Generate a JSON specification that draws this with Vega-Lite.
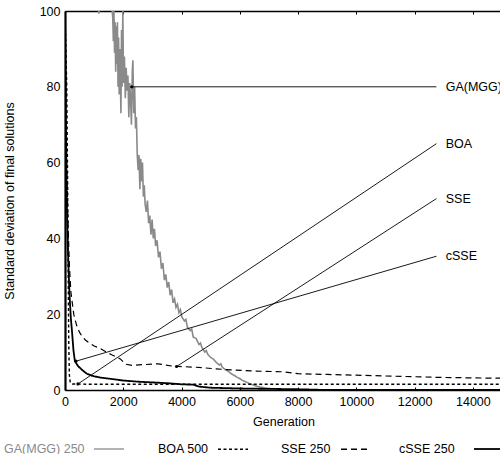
{
  "$schema": "https://vega.github.io/schema/vega-lite/v6.json",
  "autosize": "none",
  "width": 437,
  "height": 379,
  "padding": {"left": 65, "top": 11, "right": 0, "bottom": 64},
  "background": "white",
  "config": {
    "view": {"stroke": null},
    "font": "Liberation Sans",
    "axis": {"labelFont": "Liberation Sans", "titleFont": "Liberation Sans", "labelFontSize": 12.5, "titleFontSize": 12.5, "titleFontWeight": "normal", "labelColor": "black", "titleColor": "black", "domainColor": "black", "tickColor": "black", "grid": false},
    "legend": {"labelFont": "Liberation Sans", "labelFontSize": 12.5, "labelColor": "black", "padding": 0}
  },
  "datasets": {
    "curves": [
      {"series": "GA(MGG) 250", "gen": 0, "sd": 140},
      {"series": "GA(MGG) 250", "gen": 1100, "sd": 106},
      {"series": "GA(MGG) 250", "gen": 1160, "sd": 99.3},
      {"series": "GA(MGG) 250", "gen": 1200, "sd": 106},
      {"series": "GA(MGG) 250", "gen": 1500, "sd": 108},
      {"series": "GA(MGG) 250", "gen": 1610, "sd": 101},
      {"series": "GA(MGG) 250", "gen": 1640, "sd": 98},
      {"series": "GA(MGG) 250", "gen": 1660, "sd": 92},
      {"series": "GA(MGG) 250", "gen": 1680, "sd": 100},
      {"series": "GA(MGG) 250", "gen": 1700, "sd": 89},
      {"series": "GA(MGG) 250", "gen": 1720, "sd": 97},
      {"series": "GA(MGG) 250", "gen": 1740, "sd": 84},
      {"series": "GA(MGG) 250", "gen": 1760, "sd": 96},
      {"series": "GA(MGG) 250", "gen": 1780, "sd": 86},
      {"series": "GA(MGG) 250", "gen": 1800, "sd": 97},
      {"series": "GA(MGG) 250", "gen": 1820, "sd": 80},
      {"series": "GA(MGG) 250", "gen": 1840, "sd": 93},
      {"series": "GA(MGG) 250", "gen": 1860, "sd": 78},
      {"series": "GA(MGG) 250", "gen": 1880, "sd": 90},
      {"series": "GA(MGG) 250", "gen": 1900, "sd": 82},
      {"series": "GA(MGG) 250", "gen": 1920, "sd": 73},
      {"series": "GA(MGG) 250", "gen": 1940, "sd": 95},
      {"series": "GA(MGG) 250", "gen": 1960, "sd": 80},
      {"series": "GA(MGG) 250", "gen": 1985, "sd": 100},
      {"series": "GA(MGG) 250", "gen": 2010, "sd": 81},
      {"series": "GA(MGG) 250", "gen": 2040, "sd": 88},
      {"series": "GA(MGG) 250", "gen": 2070, "sd": 77},
      {"series": "GA(MGG) 250", "gen": 2100, "sd": 85},
      {"series": "GA(MGG) 250", "gen": 2130, "sd": 79},
      {"series": "GA(MGG) 250", "gen": 2160, "sd": 83},
      {"series": "GA(MGG) 250", "gen": 2190, "sd": 72},
      {"series": "GA(MGG) 250", "gen": 2220, "sd": 81},
      {"series": "GA(MGG) 250", "gen": 2250, "sd": 77},
      {"series": "GA(MGG) 250", "gen": 2280, "sd": 70},
      {"series": "GA(MGG) 250", "gen": 2310, "sd": 84},
      {"series": "GA(MGG) 250", "gen": 2330, "sd": 87},
      {"series": "GA(MGG) 250", "gen": 2360, "sd": 73},
      {"series": "GA(MGG) 250", "gen": 2390, "sd": 80},
      {"series": "GA(MGG) 250", "gen": 2420, "sd": 69},
      {"series": "GA(MGG) 250", "gen": 2450, "sd": 72},
      {"series": "GA(MGG) 250", "gen": 2480, "sd": 62},
      {"series": "GA(MGG) 250", "gen": 2510, "sd": 58},
      {"series": "GA(MGG) 250", "gen": 2540, "sd": 62},
      {"series": "GA(MGG) 250", "gen": 2570, "sd": 53},
      {"series": "GA(MGG) 250", "gen": 2600, "sd": 61},
      {"series": "GA(MGG) 250", "gen": 2630, "sd": 55},
      {"series": "GA(MGG) 250", "gen": 2660, "sd": 60},
      {"series": "GA(MGG) 250", "gen": 2690, "sd": 51},
      {"series": "GA(MGG) 250", "gen": 2720, "sd": 54},
      {"series": "GA(MGG) 250", "gen": 2750, "sd": 49},
      {"series": "GA(MGG) 250", "gen": 2790, "sd": 47},
      {"series": "GA(MGG) 250", "gen": 2830, "sd": 50},
      {"series": "GA(MGG) 250", "gen": 2870, "sd": 44},
      {"series": "GA(MGG) 250", "gen": 2910, "sd": 46},
      {"series": "GA(MGG) 250", "gen": 2950, "sd": 41},
      {"series": "GA(MGG) 250", "gen": 2990, "sd": 45},
      {"series": "GA(MGG) 250", "gen": 3030, "sd": 40},
      {"series": "GA(MGG) 250", "gen": 3070, "sd": 42.5},
      {"series": "GA(MGG) 250", "gen": 3110, "sd": 38},
      {"series": "GA(MGG) 250", "gen": 3160, "sd": 39.5},
      {"series": "GA(MGG) 250", "gen": 3210, "sd": 35},
      {"series": "GA(MGG) 250", "gen": 3260, "sd": 36.5},
      {"series": "GA(MGG) 250", "gen": 3310, "sd": 32},
      {"series": "GA(MGG) 250", "gen": 3360, "sd": 33.5},
      {"series": "GA(MGG) 250", "gen": 3410, "sd": 29},
      {"series": "GA(MGG) 250", "gen": 3460, "sd": 30.5},
      {"series": "GA(MGG) 250", "gen": 3510, "sd": 27},
      {"series": "GA(MGG) 250", "gen": 3560, "sd": 28.5},
      {"series": "GA(MGG) 250", "gen": 3610, "sd": 25},
      {"series": "GA(MGG) 250", "gen": 3660, "sd": 26.5},
      {"series": "GA(MGG) 250", "gen": 3710, "sd": 23},
      {"series": "GA(MGG) 250", "gen": 3760, "sd": 24},
      {"series": "GA(MGG) 250", "gen": 3810, "sd": 21.8},
      {"series": "GA(MGG) 250", "gen": 3860, "sd": 22.6},
      {"series": "GA(MGG) 250", "gen": 3910, "sd": 20.4},
      {"series": "GA(MGG) 250", "gen": 3960, "sd": 21.2},
      {"series": "GA(MGG) 250", "gen": 4010, "sd": 19.3},
      {"series": "GA(MGG) 250", "gen": 4100, "sd": 18.2},
      {"series": "GA(MGG) 250", "gen": 4150, "sd": 18.6},
      {"series": "GA(MGG) 250", "gen": 4200, "sd": 16.6},
      {"series": "GA(MGG) 250", "gen": 4300, "sd": 15.7},
      {"series": "GA(MGG) 250", "gen": 4350, "sd": 16.1},
      {"series": "GA(MGG) 250", "gen": 4400, "sd": 14},
      {"series": "GA(MGG) 250", "gen": 4500, "sd": 13.6},
      {"series": "GA(MGG) 250", "gen": 4600, "sd": 12},
      {"series": "GA(MGG) 250", "gen": 4650, "sd": 12.4},
      {"series": "GA(MGG) 250", "gen": 4700, "sd": 11.2},
      {"series": "GA(MGG) 250", "gen": 4800, "sd": 10},
      {"series": "GA(MGG) 250", "gen": 4850, "sd": 10.4},
      {"series": "GA(MGG) 250", "gen": 4900, "sd": 9.4},
      {"series": "GA(MGG) 250", "gen": 5000, "sd": 8.6},
      {"series": "GA(MGG) 250", "gen": 5100, "sd": 8.1},
      {"series": "GA(MGG) 250", "gen": 5200, "sd": 7.2},
      {"series": "GA(MGG) 250", "gen": 5300, "sd": 6.6},
      {"series": "GA(MGG) 250", "gen": 5350, "sd": 6.9},
      {"series": "GA(MGG) 250", "gen": 5400, "sd": 6},
      {"series": "GA(MGG) 250", "gen": 5500, "sd": 5.4},
      {"series": "GA(MGG) 250", "gen": 5600, "sd": 5},
      {"series": "GA(MGG) 250", "gen": 5700, "sd": 4.3},
      {"series": "GA(MGG) 250", "gen": 5800, "sd": 3.9},
      {"series": "GA(MGG) 250", "gen": 5900, "sd": 3.4},
      {"series": "GA(MGG) 250", "gen": 6000, "sd": 3},
      {"series": "GA(MGG) 250", "gen": 6100, "sd": 2.5},
      {"series": "GA(MGG) 250", "gen": 6200, "sd": 2.2},
      {"series": "GA(MGG) 250", "gen": 6300, "sd": 1.8},
      {"series": "GA(MGG) 250", "gen": 6400, "sd": 1.5},
      {"series": "GA(MGG) 250", "gen": 6500, "sd": 1.2},
      {"series": "GA(MGG) 250", "gen": 6700, "sd": 0.8},
      {"series": "GA(MGG) 250", "gen": 6900, "sd": 0.5},
      {"series": "GA(MGG) 250", "gen": 7100, "sd": 0.3},
      {"series": "GA(MGG) 250", "gen": 7300, "sd": 0.15},
      {"series": "GA(MGG) 250", "gen": 7500, "sd": 0.05},
      {"series": "GA(MGG) 250", "gen": 8000, "sd": 0},
      {"series": "GA(MGG) 250", "gen": 15000, "sd": 0},
      {"series": "BOA 500", "gen": 0, "sd": 100},
      {"series": "BOA 500", "gen": 60, "sd": 80},
      {"series": "BOA 500", "gen": 90, "sd": 55},
      {"series": "BOA 500", "gen": 110, "sd": 30},
      {"series": "BOA 500", "gen": 130, "sd": 12},
      {"series": "BOA 500", "gen": 150, "sd": 4},
      {"series": "BOA 500", "gen": 180, "sd": 2},
      {"series": "BOA 500", "gen": 250, "sd": 1.6},
      {"series": "BOA 500", "gen": 1000, "sd": 1.5},
      {"series": "BOA 500", "gen": 15000, "sd": 1.5},
      {"series": "SSE 250", "gen": 0, "sd": 100},
      {"series": "SSE 250", "gen": 30, "sd": 80},
      {"series": "SSE 250", "gen": 60, "sd": 60},
      {"series": "SSE 250", "gen": 100, "sd": 45},
      {"series": "SSE 250", "gen": 150, "sd": 33},
      {"series": "SSE 250", "gen": 200, "sd": 26},
      {"series": "SSE 250", "gen": 300, "sd": 20},
      {"series": "SSE 250", "gen": 400, "sd": 17},
      {"series": "SSE 250", "gen": 500, "sd": 15.2},
      {"series": "SSE 250", "gen": 600, "sd": 14},
      {"series": "SSE 250", "gen": 700, "sd": 13.2},
      {"series": "SSE 250", "gen": 800, "sd": 12.6},
      {"series": "SSE 250", "gen": 1000, "sd": 11.6},
      {"series": "SSE 250", "gen": 1200, "sd": 11},
      {"series": "SSE 250", "gen": 1400, "sd": 10.1},
      {"series": "SSE 250", "gen": 1600, "sd": 9.3},
      {"series": "SSE 250", "gen": 1800, "sd": 8.6},
      {"series": "SSE 250", "gen": 1900, "sd": 8.2},
      {"series": "SSE 250", "gen": 2000, "sd": 7.4},
      {"series": "SSE 250", "gen": 2100, "sd": 6.8},
      {"series": "SSE 250", "gen": 2300, "sd": 6.5},
      {"series": "SSE 250", "gen": 2700, "sd": 6.7},
      {"series": "SSE 250", "gen": 3200, "sd": 6.9},
      {"series": "SSE 250", "gen": 3700, "sd": 6.3},
      {"series": "SSE 250", "gen": 4500, "sd": 6},
      {"series": "SSE 250", "gen": 5500, "sd": 5.4},
      {"series": "SSE 250", "gen": 6500, "sd": 5},
      {"series": "SSE 250", "gen": 7500, "sd": 4.8},
      {"series": "SSE 250", "gen": 8000, "sd": 4.3},
      {"series": "SSE 250", "gen": 9000, "sd": 4.1},
      {"series": "SSE 250", "gen": 10000, "sd": 3.9},
      {"series": "SSE 250", "gen": 11000, "sd": 3.7},
      {"series": "SSE 250", "gen": 12000, "sd": 3.5},
      {"series": "SSE 250", "gen": 13000, "sd": 3.3},
      {"series": "SSE 250", "gen": 14000, "sd": 3.2},
      {"series": "SSE 250", "gen": 15000, "sd": 3.1},
      {"series": "cSSE 250", "gen": 0, "sd": 100},
      {"series": "cSSE 250", "gen": 30, "sd": 70},
      {"series": "cSSE 250", "gen": 60, "sd": 50},
      {"series": "cSSE 250", "gen": 100, "sd": 37},
      {"series": "cSSE 250", "gen": 150, "sd": 26},
      {"series": "cSSE 250", "gen": 200, "sd": 19},
      {"series": "cSSE 250", "gen": 240, "sd": 15.5},
      {"series": "cSSE 250", "gen": 290, "sd": 10.5},
      {"series": "cSSE 250", "gen": 340, "sd": 7.6},
      {"series": "cSSE 250", "gen": 450, "sd": 6.3},
      {"series": "cSSE 250", "gen": 600, "sd": 5.2},
      {"series": "cSSE 250", "gen": 750, "sd": 4.3},
      {"series": "cSSE 250", "gen": 950, "sd": 3.7},
      {"series": "cSSE 250", "gen": 1200, "sd": 3.3},
      {"series": "cSSE 250", "gen": 1500, "sd": 3},
      {"series": "cSSE 250", "gen": 2000, "sd": 2.5},
      {"series": "cSSE 250", "gen": 2500, "sd": 2.2},
      {"series": "cSSE 250", "gen": 3000, "sd": 2},
      {"series": "cSSE 250", "gen": 3500, "sd": 1.8},
      {"series": "cSSE 250", "gen": 4000, "sd": 1.5},
      {"series": "cSSE 250", "gen": 4400, "sd": 1.4},
      {"series": "cSSE 250", "gen": 4600, "sd": 0.9},
      {"series": "cSSE 250", "gen": 5000, "sd": 0.6},
      {"series": "cSSE 250", "gen": 6000, "sd": 0.4},
      {"series": "cSSE 250", "gen": 7000, "sd": 0.3},
      {"series": "cSSE 250", "gen": 8000, "sd": 0.2},
      {"series": "cSSE 250", "gen": 9000, "sd": 0},
      {"series": "cSSE 250", "gen": 15000, "sd": 0}
    ],
    "notes": [
      {"label": "GA(MGG)", "gen": 2290, "sd": 80, "gen2": 12750, "sd2": 80, "lgen": 13000},
      {"label": "BOA", "gen": 445, "sd": 1.6, "gen2": 12750, "sd2": 65, "lgen": 13000},
      {"label": "SSE", "gen": 3830, "sd": 6.2, "gen2": 12750, "sd2": 50.5, "lgen": 13000},
      {"label": "cSSE", "gen": 375, "sd": 7.6, "gen2": 12750, "sd2": 35.3, "lgen": 13000}
    ]
  },
  "resolve": {"axis": {"x": "independent"}},
  "layer": [
    {
      "data": {"name": "curves"},
      "mark": {"type": "line", "clip": true},
      "encoding": {
        "x": {"field": "gen", "type": "quantitative", "scale": {"domain": [0, 15000], "nice": false},
          "axis": {"orient": "bottom", "values": [0, 2000, 4000, 6000, 8000, 10000, 12000, 14000], "format": "d", "title": "Generation", "domainWidth": 1.5, "tickSize": -3, "labelPadding": 8, "titlePadding": 8, "labelFlush": false}},
        "y": {"field": "sd", "type": "quantitative", "scale": {"domain": [0, 100], "nice": false},
          "axis": {"values": [0, 20, 40, 60, 80, 100], "title": "Standard deviation of final solutions", "domainWidth": 2.2, "ticks": false, "labelPadding": 5, "titlePadding": 23, "labelFlush": false}},
        "color": {"field": "series", "type": "nominal",
          "scale": {"domain": ["GA(MGG) 250", "BOA 500", "SSE 250", "cSSE 250"], "range": ["#8a8a8a", "#000000", "#000000", "#000000"]},
          "legend": {"orient": "none", "legendX": -62, "legendY": 422, "direction": "horizontal", "title": null, "values": ["GA(MGG) 250"],
            "symbolType": "stroke", "symbolSize": 900, "symbolStrokeWidth": 1.3, "labelAlign": "left", "symbolOffset": 90, "labelOffset": -121, "labelColor": "#8a8a8a"}},
        "strokeDash": {"field": "series", "type": "nominal",
          "scale": {"domain": ["BOA 500", "SSE 250", "cSSE 250", "GA(MGG) 250"], "range": [[3, 2.5], [6, 4], [1, 0], [1, 0]]},
          "legend": {"orient": "none", "legendX": 92, "legendY": 422, "direction": "horizontal", "title": null, "values": ["BOA 500", "SSE 250"],
            "symbolType": "stroke", "symbolSize": 900, "symbolStrokeWidth": 1.3, "symbolStrokeColor": "black", "labelAlign": "left", "symbolOffset": 60, "labelOffset": -91, "columnPadding": 29}},
        "strokeWidth": {"field": "series", "type": "nominal",
          "scale": {"domain": ["cSSE 250", "GA(MGG) 250", "BOA 500", "SSE 250"], "range": [1.8, 1.2, 1, 1.4]},
          "legend": {"orient": "none", "legendX": 333, "legendY": 422, "direction": "horizontal", "title": null, "values": ["cSSE 250"],
            "symbolType": "stroke", "symbolSize": 900, "symbolStrokeColor": "black", "labelAlign": "left", "symbolOffset": 75, "labelOffset": -106}}
      }
    },
    {
      "data": {"name": "notes"},
      "mark": {"type": "rule", "color": "black", "strokeWidth": 0.9},
      "encoding": {
        "x": {"field": "gen", "type": "quantitative",
          "axis": {"orient": "top", "values": [0, 2000, 4000, 6000, 8000, 10000, 12000, 14000], "labels": false, "title": null, "domainWidth": 1.5, "tickSize": -3}},
        "y": {"field": "sd", "type": "quantitative"},
        "x2": {"field": "gen2"},
        "y2": {"field": "sd2"}
      }
    },
    {
      "data": {"name": "notes"},
      "mark": {"type": "point", "filled": true, "color": "black", "size": 10, "opacity": 1},
      "encoding": {
        "x": {"field": "gen", "type": "quantitative", "axis": null},
        "y": {"field": "sd", "type": "quantitative"}
      }
    },
    {
      "data": {"name": "notes"},
      "mark": {"type": "text", "align": "left", "baseline": "middle", "fontSize": 12.5, "font": "Liberation Sans", "color": "black", "dx": 2},
      "encoding": {
        "x": {"field": "lgen", "type": "quantitative", "axis": null},
        "y": {"field": "sd2", "type": "quantitative"},
        "text": {"field": "label"}
      }
    }
  ]
}
